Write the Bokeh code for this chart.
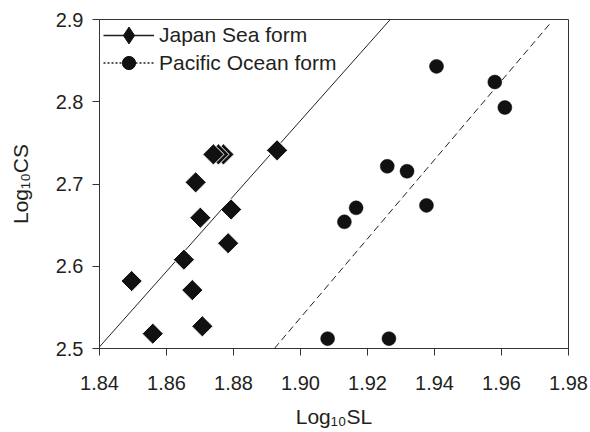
import numpy as np
from bokeh.plotting import figure
from bokeh.models import Range1d, FixedTicker, Legend, LegendItem
from bokeh.embed import file_html
from bokeh.resources import INLINE

# ---- data ----
japan_sl = [1.8496, 1.8559, 1.8652, 1.8677, 1.8687, 1.8701, 1.8707,
            1.8770, 1.8755, 1.8740, 1.8784, 1.8793, 1.8930]
japan_cs = [2.582, 2.518, 2.608, 2.571, 2.702, 2.659, 2.527,
            2.736, 2.736, 2.736, 2.628, 2.669, 2.741]

pacific_sl = [1.9081, 1.9131, 1.9166, 1.9259, 1.9264, 1.9318, 1.9376,
              1.9406, 1.9580, 1.9610]
pacific_cs = [2.512, 2.654, 2.671, 2.7215, 2.512, 2.7155, 2.674,
              2.843, 2.824, 2.793]

# fitted lines (end points)
japan_fit_sl = [1.8400, 1.9268]
japan_fit_cs = [2.502, 2.900]
pacific_fit_sl = [1.8922, 1.9746]
pacific_fit_cs = [2.500, 2.8956]

x_ticks = [1.84, 1.86, 1.88, 1.90, 1.92, 1.94, 1.96, 1.98]
x_tick_labels = ["1.84", "1.86", "1.88", "1.90", "1.92", "1.94", "1.96", "1.98"]
y_ticks = [2.5, 2.6, 2.7, 2.8, 2.9]
y_tick_labels = ["2.5", "2.6", "2.7", "2.8", "2.9"]

series_names = ["Japan Sea form", "Pacific Ocean form"]

INK = "#231f20"
FONT = "Liberation Sans"
FRAME_H = 329

p = figure(width=590, height=432, output_backend="svg", toolbar_location=None,
           x_range=Range1d(1.84, 1.98), y_range=Range1d(2.5, 2.9),
           min_border_left=99, min_border_right=22, min_border_top=19,
           min_border_bottom=84)
p.background_fill_color = "white"
p.border_fill_color = "white"
p.outline_line_color = "#333333"
p.outline_line_width = 1
p.grid.visible = False

# fitted lines
p.line(japan_fit_sl, japan_fit_cs, line_color=INK, line_width=1)
p.line(pacific_fit_sl, pacific_fit_cs, line_color=INK, line_width=1, line_dash="7 4")

# points
sc_j = p.scatter(japan_sl, japan_cs, marker="square", angle=np.pi / 4, size=15,
                 fill_color="#111111", line_color="white", line_width=1)
sc_p = p.scatter(pacific_sl, pacific_cs, marker="circle", size=14,
                 fill_color="#111111", line_color="#111111", line_width=0.5)

# legend-only renderers (no visible data)
nan = [np.nan]
leg_solid = p.line(nan, nan, line_color=INK, line_width=1.6)
leg_dot = p.line(nan, nan, line_color=INK, line_width=1.6, line_dash="2 2")
leg_dia = p.scatter(nan, nan, marker="diamond", fill_color="#111111", line_color="#111111")
leg_cir = p.scatter(nan, nan, marker="circle", fill_color="#111111", line_color="#111111")

common = dict(margin=0, padding=0, spacing=0, glyph_width=51, label_standoff=5,
              label_text_font=FONT, label_text_font_size="21px",
              label_text_color=INK, border_line_color=None,
              background_fill_alpha=0)
leg1 = Legend(items=[LegendItem(label=series_names[0], renderers=[leg_solid, leg_dia])],
              location=(4, FRAME_H - 15.5 - 21), glyph_height=42, **common)
leg2 = Legend(items=[LegendItem(label=series_names[1], renderers=[leg_dot, leg_cir])],
              location=(4, FRAME_H - 43.5 - 16.5), glyph_height=33, **common)
p.add_layout(leg1)
p.add_layout(leg2)

for ax in (p.xaxis[0], p.yaxis[0]):
    ax.major_tick_out = 7
    ax.major_tick_in = 0
    ax.minor_tick_line_color = None
    ax.axis_line_color = "#333333"
    ax.major_tick_line_color = "#333333"
    ax.major_label_text_font = FONT
    ax.major_label_text_font_size = "20px"
    ax.major_label_text_color = INK
    ax.axis_label_text_font = FONT
    ax.axis_label_text_font_size = "21px"
    ax.axis_label_text_font_style = "normal"
    ax.axis_label_text_color = INK

p.xaxis.ticker = FixedTicker(ticks=x_ticks)
p.xaxis.major_label_overrides = dict(zip(x_ticks, x_tick_labels))
p.yaxis.ticker = FixedTicker(ticks=y_ticks)
p.yaxis.major_label_overrides = dict(zip(y_ticks, y_tick_labels))
p.xaxis.axis_label = "Log\u2081\u2080SL"
p.yaxis.axis_label = "Log\u2081\u2080CS"
p.xaxis.major_label_standoff = 20
p.xaxis.axis_label_standoff = 12
p.yaxis.major_label_standoff = 9
p.yaxis.axis_label_standoff = 21
p.yaxis.major_label_orientation = "horizontal"

open("out.html", "w").write(file_html(p, INLINE))
